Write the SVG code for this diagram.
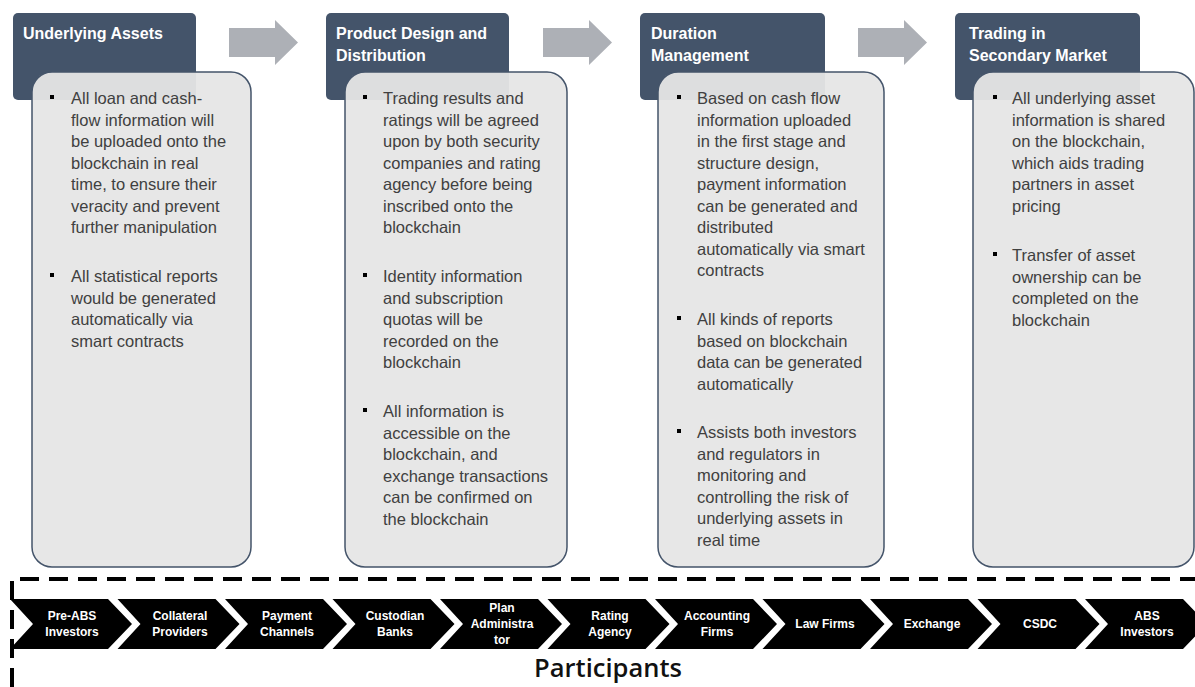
<svg xmlns="http://www.w3.org/2000/svg" width="1195" height="687" viewBox="0 0 1195 687">
<defs>
<style>
.hdr{fill:#44546a}
.htx{font-family:"Liberation Sans",Arial,sans-serif;font-weight:bold;font-size:16px;fill:#ffffff}
.card{fill:#e6e6e6;fill-opacity:0.95;stroke:#44546a;stroke-width:1.5}
.btx{font-family:"Liberation Sans",Arial,sans-serif;font-size:16.5px;fill:#404040}
.bul{fill:#000000}
.arr{fill:#adb0b6}
.chev{fill:#000000}
.ctx{font-family:"Liberation Sans",Arial,sans-serif;font-weight:bold;font-size:12px;fill:#ffffff;text-anchor:middle}
.dash{fill:none;stroke:#000000;stroke-width:4;stroke-dasharray:19 10}
.title{font-family:"Open Sans","Liberation Sans",sans-serif;font-weight:600;font-size:25.5px;fill:#111111;text-anchor:middle}
</style>
<path id="chevron" d="M0,0 H98 L122,25 L98,50 H0 L23,25 Z"/>
</defs>

<g id="connectors">
<path class="arr" d="M229,28 H275 V20 L298,42.5 L275,65 V57 H229 Z"/>
<path class="arr" d="M543,28 H589 V20 L612,42.5 L589,65 V57 H543 Z"/>
<path class="arr" d="M858,28 H904 V20 L927,42.5 L904,65 V57 H858 Z"/>
</g>

<g id="stage1">
<rect class="hdr" x="13" y="13" width="183" height="87" rx="5"/>
<text class="htx" x="23" y="38.5">Underlying Assets</text>
<rect class="card" x="32" y="72" width="219" height="495" rx="20"/>
<g class="btx">
<text x="71" y="104">All loan and cash-</text>
<text x="71" y="125.5">flow information will</text>
<text x="71" y="147">be uploaded onto the</text>
<text x="71" y="168.5">blockchain in real</text>
<text x="71" y="190">time, to ensure their</text>
<text x="71" y="211.5">veracity and prevent</text>
<text x="71" y="233">further manipulation</text>
<text x="71" y="282">All statistical reports</text>
<text x="71" y="303.5">would be generated</text>
<text x="71" y="325">automatically via</text>
<text x="71" y="346.5">smart contracts</text>
</g>
<rect class="bul" x="50" y="95" width="4" height="4"/>
<rect class="bul" x="50" y="273" width="4" height="4"/>
</g>

<g id="stage2">
<rect class="hdr" x="326" y="13" width="183" height="87" rx="5"/>
<text class="htx" x="336" y="38.5">Product Design and</text>
<text class="htx" x="336" y="60.5">Distribution</text>
<rect class="card" x="345" y="72" width="222" height="495" rx="20"/>
<g class="btx">
<text x="383" y="104">Trading results and</text>
<text x="383" y="125.5">ratings will be agreed</text>
<text x="383" y="147">upon by both security</text>
<text x="383" y="168.5">companies and rating</text>
<text x="383" y="190">agency before being</text>
<text x="383" y="211.5">inscribed onto the</text>
<text x="383" y="233">blockchain</text>
<text x="383" y="282">Identity information</text>
<text x="383" y="303.5">and subscription</text>
<text x="383" y="325">quotas will be</text>
<text x="383" y="346.5">recorded on the</text>
<text x="383" y="368">blockchain</text>
<text x="383" y="417">All information is</text>
<text x="383" y="438.5">accessible on the</text>
<text x="383" y="460">blockchain, and</text>
<text x="383" y="481.5">exchange transactions</text>
<text x="383" y="503">can be confirmed on</text>
<text x="383" y="524.5">the blockchain</text>
</g>
<rect class="bul" x="363" y="95" width="4" height="4"/>
<rect class="bul" x="363" y="273" width="4" height="4"/>
<rect class="bul" x="363" y="408" width="4" height="4"/>
</g>

<g id="stage3">
<rect class="hdr" x="640" y="13" width="185" height="87" rx="5"/>
<text class="htx" x="651" y="38.5">Duration</text>
<text class="htx" x="651" y="60.5">Management</text>
<rect class="card" x="658" y="72" width="226" height="495" rx="20"/>
<g class="btx">
<text x="697" y="104">Based on cash flow</text>
<text x="697" y="125.5">information uploaded</text>
<text x="697" y="147">in the first stage and</text>
<text x="697" y="168.5">structure design,</text>
<text x="697" y="190">payment information</text>
<text x="697" y="211.5">can be generated and</text>
<text x="697" y="233">distributed</text>
<text x="697" y="254.5">automatically via smart</text>
<text x="697" y="276">contracts</text>
<text x="697" y="325">All kinds of reports</text>
<text x="697" y="346.5">based on blockchain</text>
<text x="697" y="368">data can be generated</text>
<text x="697" y="389.5">automatically</text>
<text x="697" y="438">Assists both investors</text>
<text x="697" y="459.5">and regulators in</text>
<text x="697" y="481">monitoring and</text>
<text x="697" y="502.5">controlling the risk of</text>
<text x="697" y="524">underlying assets in</text>
<text x="697" y="545.5">real time</text>
</g>
<rect class="bul" x="677" y="95" width="4" height="4"/>
<rect class="bul" x="677" y="316" width="4" height="4"/>
<rect class="bul" x="677" y="429" width="4" height="4"/>
</g>

<g id="stage4">
<rect class="hdr" x="955" y="13" width="185" height="87" rx="5"/>
<text class="htx" x="969" y="38.5">Trading in</text>
<text class="htx" x="969" y="60.5">Secondary Market</text>
<rect class="card" x="973" y="72" width="221" height="495" rx="20"/>
<g class="btx">
<text x="1012" y="104">All underlying asset</text>
<text x="1012" y="125.5">information is shared</text>
<text x="1012" y="147">on the blockchain,</text>
<text x="1012" y="168.5">which aids trading</text>
<text x="1012" y="190">partners in asset</text>
<text x="1012" y="211.5">pricing</text>
<text x="1012" y="261">Transfer of asset</text>
<text x="1012" y="282.5">ownership can be</text>
<text x="1012" y="304">completed on the</text>
<text x="1012" y="325.5">blockchain</text>
</g>
<rect class="bul" x="993" y="95" width="4" height="4"/>
<rect class="bul" x="993" y="252" width="4" height="4"/>
</g>

<g id="participants">
<path class="dash" d="M12,687 V579 H1195"/>
<use href="#chevron" x="10" y="599" class="chev"/>
<use href="#chevron" x="117.5" y="599" class="chev"/>
<use href="#chevron" x="225" y="599" class="chev"/>
<use href="#chevron" x="332.5" y="599" class="chev"/>
<use href="#chevron" x="440" y="599" class="chev"/>
<use href="#chevron" x="547.5" y="599" class="chev"/>
<use href="#chevron" x="655" y="599" class="chev"/>
<use href="#chevron" x="762.5" y="599" class="chev"/>
<use href="#chevron" x="870" y="599" class="chev"/>
<use href="#chevron" x="977.5" y="599" class="chev"/>
<use href="#chevron" x="1085" y="599" class="chev"/>
<g class="ctx">
<text x="72" y="620">Pre-ABS</text><text x="72" y="636">Investors</text>
<text x="180" y="620">Collateral</text><text x="180" y="636">Providers</text>
<text x="287" y="620">Payment</text><text x="287" y="636">Channels</text>
<text x="395" y="620">Custodian</text><text x="395" y="636">Banks</text>
<text x="502" y="612">Plan</text><text x="502" y="628">Administra</text><text x="502" y="644">tor</text>
<text x="610" y="620">Rating</text><text x="610" y="636">Agency</text>
<text x="717" y="620">Accounting</text><text x="717" y="636">Firms</text>
<text x="825" y="628">Law Firms</text>
<text x="932" y="628">Exchange</text>
<text x="1040" y="628">CSDC</text>
<text x="1147" y="620">ABS</text><text x="1147" y="636">Investors</text>
</g>
<text class="title" x="608" y="677">Participants</text>
</g>
</svg>
